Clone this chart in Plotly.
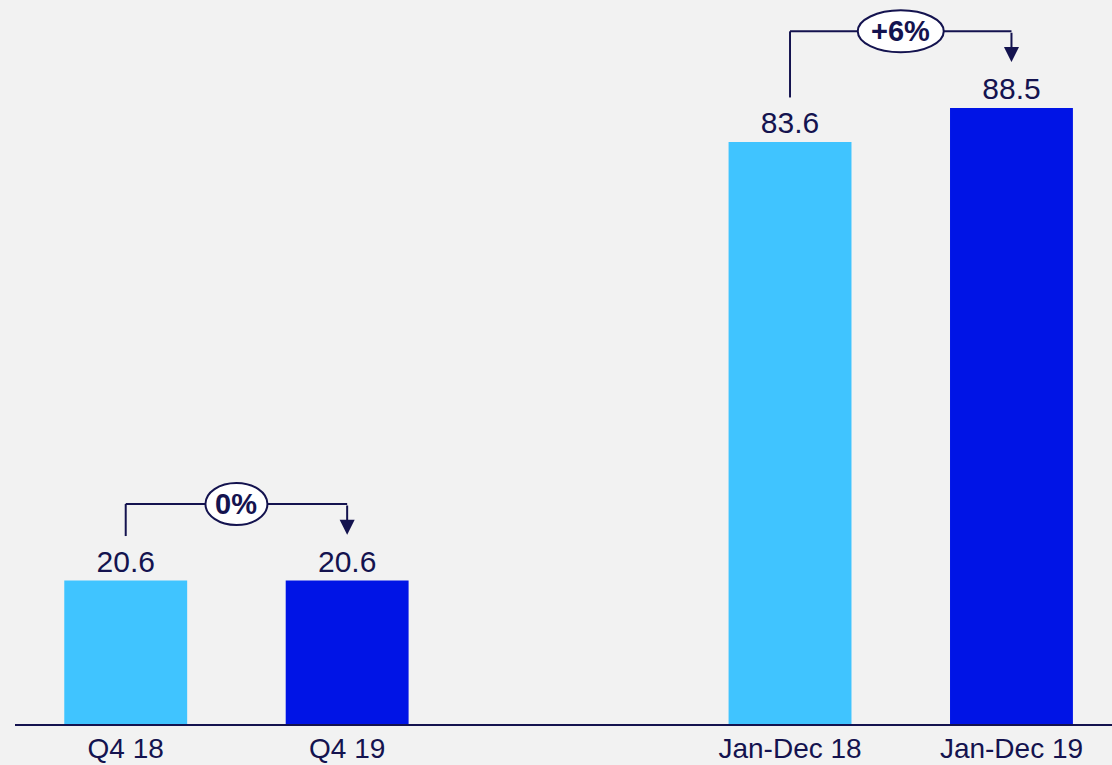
import plotly.graph_objects as go

categories = ["Q4 18", "Q4 19", "Jan-Dec 18", "Jan-Dec 19"]
positions = [0, 1, 3, 4]
values = [20.6, 20.6, 83.6, 88.5]
bar_colors = ["#40c4ff", "#0014e6", "#40c4ff", "#0014e6"]
changes = ["0%", "+6%"]
pairs = [(0, 1), (2, 3)]

NAVY = "#14134f"
FONT = "Liberation Sans, Arial, sans-serif"

fig = go.Figure()
fig.add_trace(go.Bar(
    x=positions, y=values, width=0.555,
    marker=dict(color=bar_colors, line=dict(width=0)),
    text=[f"{v:.1f}" for v in values], textposition="outside",
    textfont=dict(size=30, color=NAVY, family=FONT),
    cliponaxis=False, hoverinfo="skip",
))

shapes = []
annotations = []
for (i, j), label in zip(pairs, changes):
    xa, xb = positions[i], positions[j]
    va, vb = values[i], values[j]
    top = max(va, vb) + 11
    start = va + 6.4
    tip = vb + 6.6
    shapes.append(dict(type="line", xref="x", yref="y", x0=xa, x1=xa, y0=start, y1=top,
                       line=dict(color=NAVY, width=2)))
    shapes.append(dict(type="line", xref="x", yref="y", x0=xa, x1=xb, y0=top, y1=top,
                       line=dict(color=NAVY, width=2)))
    annotations.append(dict(x=xb, y=tip, ax=xb, ay=top, xref="x", yref="y", axref="x", ayref="y",
                            showarrow=True, arrowhead=2, arrowsize=1.5, arrowwidth=2,
                            arrowcolor=NAVY, text=""))
    w = 62 if len(label) <= 2 else 86
    mid = (xa + xb) / 2
    shapes.append(dict(type="circle", xref="x", yref="y", xsizemode="pixel", ysizemode="pixel",
                       xanchor=mid, yanchor=top, x0=-w / 2, x1=w / 2, y0=-21, y1=21,
                       fillcolor="white", line=dict(color=NAVY, width=2), layer="above"))
    annotations.append(dict(x=mid, y=top, xref="x", yref="y", text=f"<b>{label}</b>",
                            showarrow=False, font=dict(size=29, color=NAVY, family=FONT)))

fig.update_layout(
    width=1112, height=765,
    margin=dict(l=15, r=0, t=0, b=41),
    paper_bgcolor="#f2f2f2", plot_bgcolor="#f2f2f2",
    showlegend=False,
    shapes=shapes, annotations=annotations,
    font=dict(family=FONT, color=NAVY),
    xaxis=dict(range=[-0.5, 4.454], tickvals=positions, ticktext=categories, automargin=False,
               showgrid=False, zeroline=False, showline=True, linecolor=NAVY, linewidth=2,
               ticks="", ticklabelstandoff=-2,
               tickfont=dict(size=28, color=NAVY, family=FONT), fixedrange=True),
    yaxis=dict(range=[0, 104], visible=False, showgrid=False, zeroline=False, fixedrange=True,
               automargin=False),
)

fig.write_html("out.html")
